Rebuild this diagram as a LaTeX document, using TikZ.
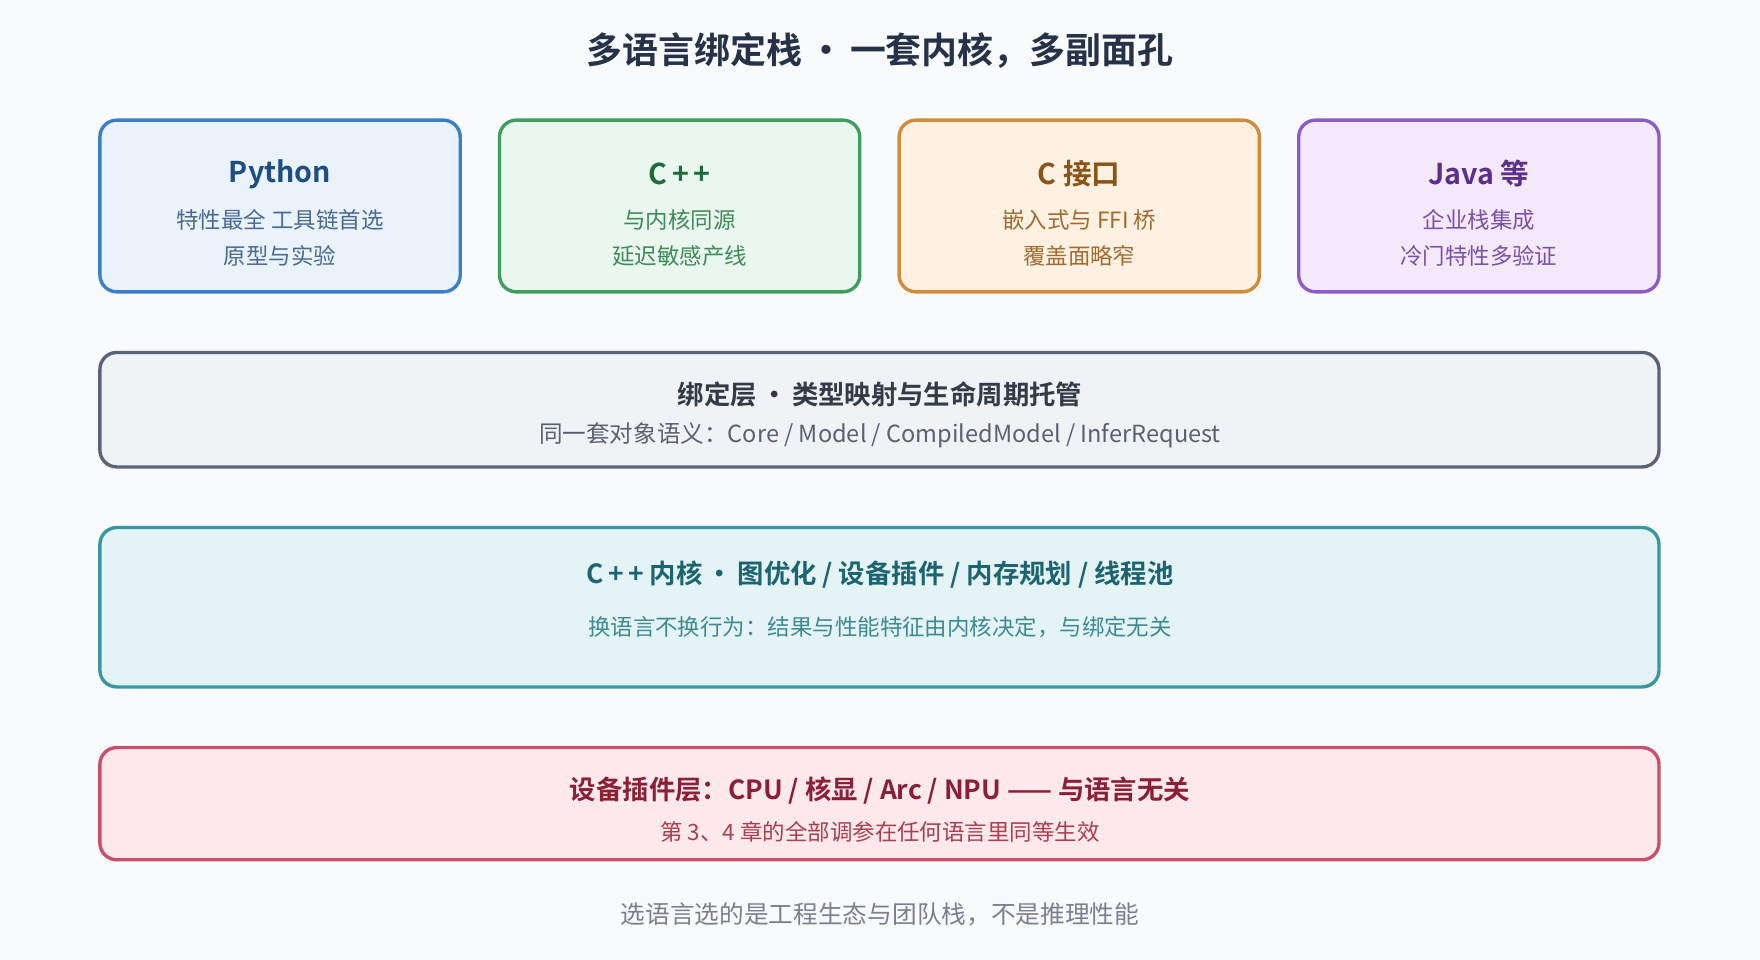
\documentclass[tikz,border=0pt]{standalone}
\usepackage{fontspec}
\setmainfont{Noto Sans CJK SC}[BoldFont={Noto Sans CJK SC Bold}]
\begin{document}
\begin{tikzpicture}[x=1pt,y=-1pt,
 box/.style={draw,line width=3pt,rounded corners=15pt},
 ttl/.style={font=\bfseries\fontsize{25.5}{28}\selectfont,inner sep=0},
 ltl/.style={font=\bfseries\fontsize{23.5}{26}\selectfont,inner sep=0},
 sub/.style={font=\fontsize{20}{23}\selectfont,inner sep=0}]
\fill[color={rgb,255:red,248;green,250;blue,252}] (0,0) rectangle (1568,855);
\useasboundingbox (0,0) rectangle (1568,855);
\definecolor{pyb}{HTML}{3B7FC4}\definecolor{pyf}{HTML}{EAF2FC}\definecolor{pyt}{HTML}{1E4F80}\definecolor{pys}{HTML}{4A6A90}
\definecolor{cpb}{HTML}{3F9D5F}\definecolor{cpf}{HTML}{EAF7EE}\definecolor{cpt}{HTML}{1F6B3A}\definecolor{cps}{HTML}{3E8A58}
\definecolor{cb}{HTML}{D08C3A}\definecolor{cf}{HTML}{FEF1E2}\definecolor{ct}{HTML}{8A5418}\definecolor{cs}{HTML}{A06A30}
\definecolor{jb}{HTML}{8A5CC4}\definecolor{jf}{HTML}{F4E8FB}\definecolor{jt}{HTML}{5B2F8A}\definecolor{js}{HTML}{7A50A8}
\definecolor{bb}{HTML}{5A6478}\definecolor{bf}{HTML}{F1F2F5}\definecolor{bt}{HTML}{333A48}\definecolor{bs}{HTML}{5A6170}
\definecolor{kb}{HTML}{3A97A0}\definecolor{kf}{HTML}{E4F4F6}\definecolor{kt}{HTML}{1C6470}\definecolor{ks}{HTML}{3E8A92}
\definecolor{db}{HTML}{C8506A}\definecolor{df}{HTML}{FDE8EC}\definecolor{dt}{HTML}{8A2036}\definecolor{ds}{HTML}{A8404F}
\node[font=\bfseries\fontsize{32}{36}\selectfont,text={rgb,255:red,38;green,50;blue,72}] (title) at (784,45) {多语言绑定栈\,•\,一套内核，多副面孔};
% top boxes
\draw[box,pyb,fill=pyf] (89,107) rectangle (410,260);
\node[ttl,pyt] (py) at (249.5,155) {Python};
\node[sub,pys] (py1) at (249.5,196) {特性最全 工具链首选};
\node[sub,pys] (py2) at (249.5,228) {原型与实验};
\draw[box,cpb,fill=cpf] (445,107) rectangle (766,260);
\node[ttl,cpt] (cp) at (605.5,155) {C\,+\,+};
\node[sub,cps] (cp1) at (605.5,196) {与内核同源};
\node[sub,cps] (cp2) at (605.5,228) {延迟敏感产线};
\draw[box,cb,fill=cf] (801,107) rectangle (1122,260);
\node[ttl,ct] (c) at (961.5,155) {C 接口};
\node[sub,cs] (c1) at (961.5,196) {嵌入式与 FFI 桥};
\node[sub,cs] (c2) at (961.5,228) {覆盖面略窄};
\draw[box,jb,fill=jf] (1157,107) rectangle (1478,260);
\node[ttl,jt] (j) at (1317.5,155) {Java 等};
\node[sub,js] (j1) at (1317.5,196) {企业栈集成};
\node[sub,js] (j2) at (1317.5,228) {冷门特性多验证};
% layers
\draw[box,bb,fill=bf] (89,314) rectangle (1478,416);
\node[ltl,bt] (bl) at (784,351) {绑定层\,•\,类型映射与生命周期托管};
\node[sub,bs,font=\fontsize{21}{24}\selectfont] (bl1) at (784,388) {同一套对象语义：Core / Model / CompiledModel / InferRequest};
\draw[box,kb,fill=kf] (89,470) rectangle (1478,612);
\node[ltl,kt] (k) at (784,512) {C\,+\,+ 内核\,•\,图优化 / 设备插件 / 内存规划 / 线程池};
\node[sub,ks] (k1) at (784,559) {换语言不换行为：结果与性能特征由内核决定，与绑定无关};
\draw[box,db,fill=df] (89,666) rectangle (1478,766);
\node[ltl,dt] (d) at (784,704) {设备插件层：CPU / 核显 / Arc / NPU —— 与语言无关};
\node[sub,ds] (d1) at (784,741) {第 3、4 章的全部调参在任何语言里同等生效};
\node[sub,font=\fontsize{22}{25}\selectfont,text={rgb,255:red,122;green,128;blue,144}] (foot) at (784,815) {选语言选的是工程生态与团队栈，不是推理性能};
\end{tikzpicture}
\end{document}
